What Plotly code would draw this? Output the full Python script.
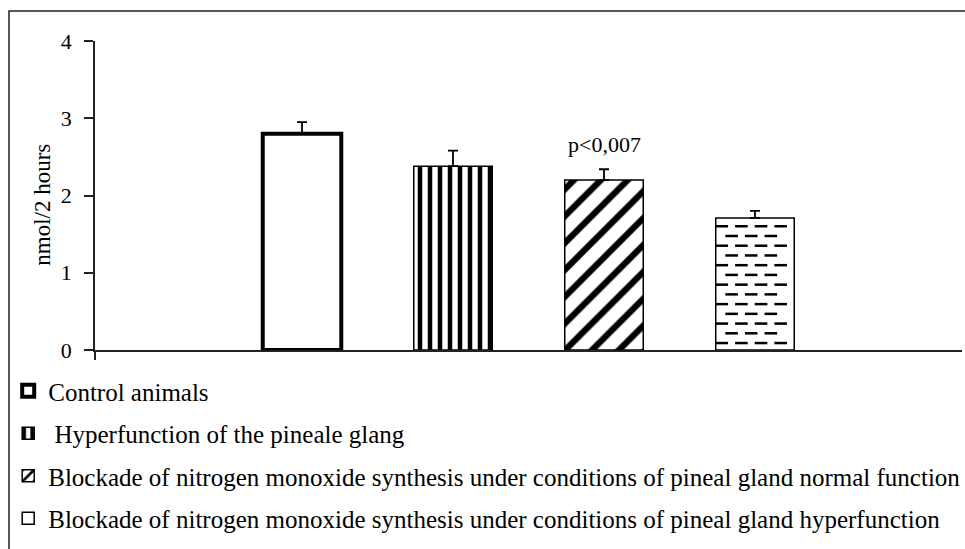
import plotly.graph_objects as go

# data
groups = [
    "Control animals",
    " Hyperfunction of the pineale glang",
    "Blockade of nitrogen monoxide synthesis under conditions of pineal gland normal function",
    "Blockade of nitrogen monoxide synthesis under conditions of pineal gland hyperfunction",
]
positions = [1, 2, 3, 4]
means = [2.80, 2.38, 2.20, 1.71]
errors = [0.15, 0.20, 0.14, 0.09]
y_ticks = [0, 1, 2, 3, 4]
note_text = "p<0,007"
note_group = 2

serif = "Liberation Serif, Times New Roman, serif"
bar_width = 0.52

patterns = [
    dict(shape=""),
    dict(shape="|", size=10, solidity=0.45, fgcolor="black", bgcolor="white",
         fgopacity=1, fillmode="replace"),
    dict(shape="/", size=19, solidity=0.33, fgcolor="black", bgcolor="white",
         fgopacity=1, fillmode="replace"),
    dict(shape=""),
]
line_widths = [4, 1.5, 1.5, 1.5]

fig = go.Figure()

for i in range(len(groups)):
    fig.add_trace(go.Bar(
        x=[positions[i]],
        y=[means[i]],
        width=bar_width,
        name=groups[i],
        legendgroup="g%d" % i,
        marker=dict(color="white", pattern=patterns[i],
                    line=dict(color="black", width=line_widths[i])),
        error_y=dict(type="data", array=[errors[i]], arrayminus=[0],
                     symmetric=False, color="black", thickness=1.8, width=5),
    ))

# dashed fill of the last bar (plotly has no dash pattern), built from its value
pitch_y = 0.126
pitch_x = 0.13
dash_half = 0.03
left = positions[3] - bar_width / 2
right = positions[3] + bar_width / 2
dx, dy = [], []
k = 0
y = 0.09
while y < means[3] - 0.06:
    x = left + 0.04 + (pitch_x / 2 if k % 2 else 0)
    while x + dash_half <= right + 0.001:
        dx.append(x)
        dy.append(y)
        x += pitch_x
    k += 1
    y += pitch_y
fig.add_trace(go.Scatter(
    x=dx, y=dy, mode="markers", showlegend=False, hoverinfo="skip",
    marker=dict(symbol="line-ew", size=9, color="black",
                line=dict(color="black", width=2.5)),
))

fig.add_annotation(
    x=positions[note_group], y=means[note_group] + errors[note_group],
    text=note_text, showarrow=False, yanchor="bottom", yshift=10,
    font=dict(family=serif, size=22, color="black"),
)

# y axis title as rotated text (keeps its place with fixed margins)
fig.add_annotation(
    xref="paper", yref="paper", x=-0.06, y=0.47,
    xanchor="center", yanchor="middle",
    text="nmol/2 hours", textangle=-90, showarrow=False,
    font=dict(family=serif, size=23, color="black"),
)

# outer frame
fig.add_shape(type="rect", xref="paper", yref="paper",
              x0=-0.0992, x1=1.05, y0=-0.8, y1=1.097,
              line=dict(color="#222", width=1.5), layer="below")

fig.update_layout(
    width=965, height=549,
    paper_bgcolor="white", plot_bgcolor="white",
    margin=dict(l=95, r=3, t=41, b=199, autoexpand=False),
    barmode="overlay",
    showlegend=True,
    legend=dict(
        xref="container", yref="container",
        x=0.0085, y=1 - 368 / 549, xanchor="left", yanchor="top",
        font=dict(family=serif, size=25, color="black"),
        tracegroupgap=7, traceorder="grouped",
        bgcolor="rgba(0,0,0,0)",
    ),
    xaxis=dict(
        range=[-0.371, 5.371], showgrid=False, zeroline=False,
        showline=True, linecolor="#222", linewidth=1.5,
        tickvals=[-0.371], ticks="outside", ticklen=8, tickwidth=1.5,
        tickcolor="#222", showticklabels=False,
    ),
    yaxis=dict(
        range=[0, 4], tickvals=y_ticks, showgrid=False, zeroline=False,
        showline=True, linecolor="#222", linewidth=1.5,
        ticks="outside", ticklen=9, tickwidth=1.5, tickcolor="#222",
        ticklabelstandoff=8,
        tickfont=dict(family=serif, size=22, color="black"),
    ),
)

fig.write_html("out.html", config={"displayModeBar": False},
               post_script="document.body.style.margin='0';")
